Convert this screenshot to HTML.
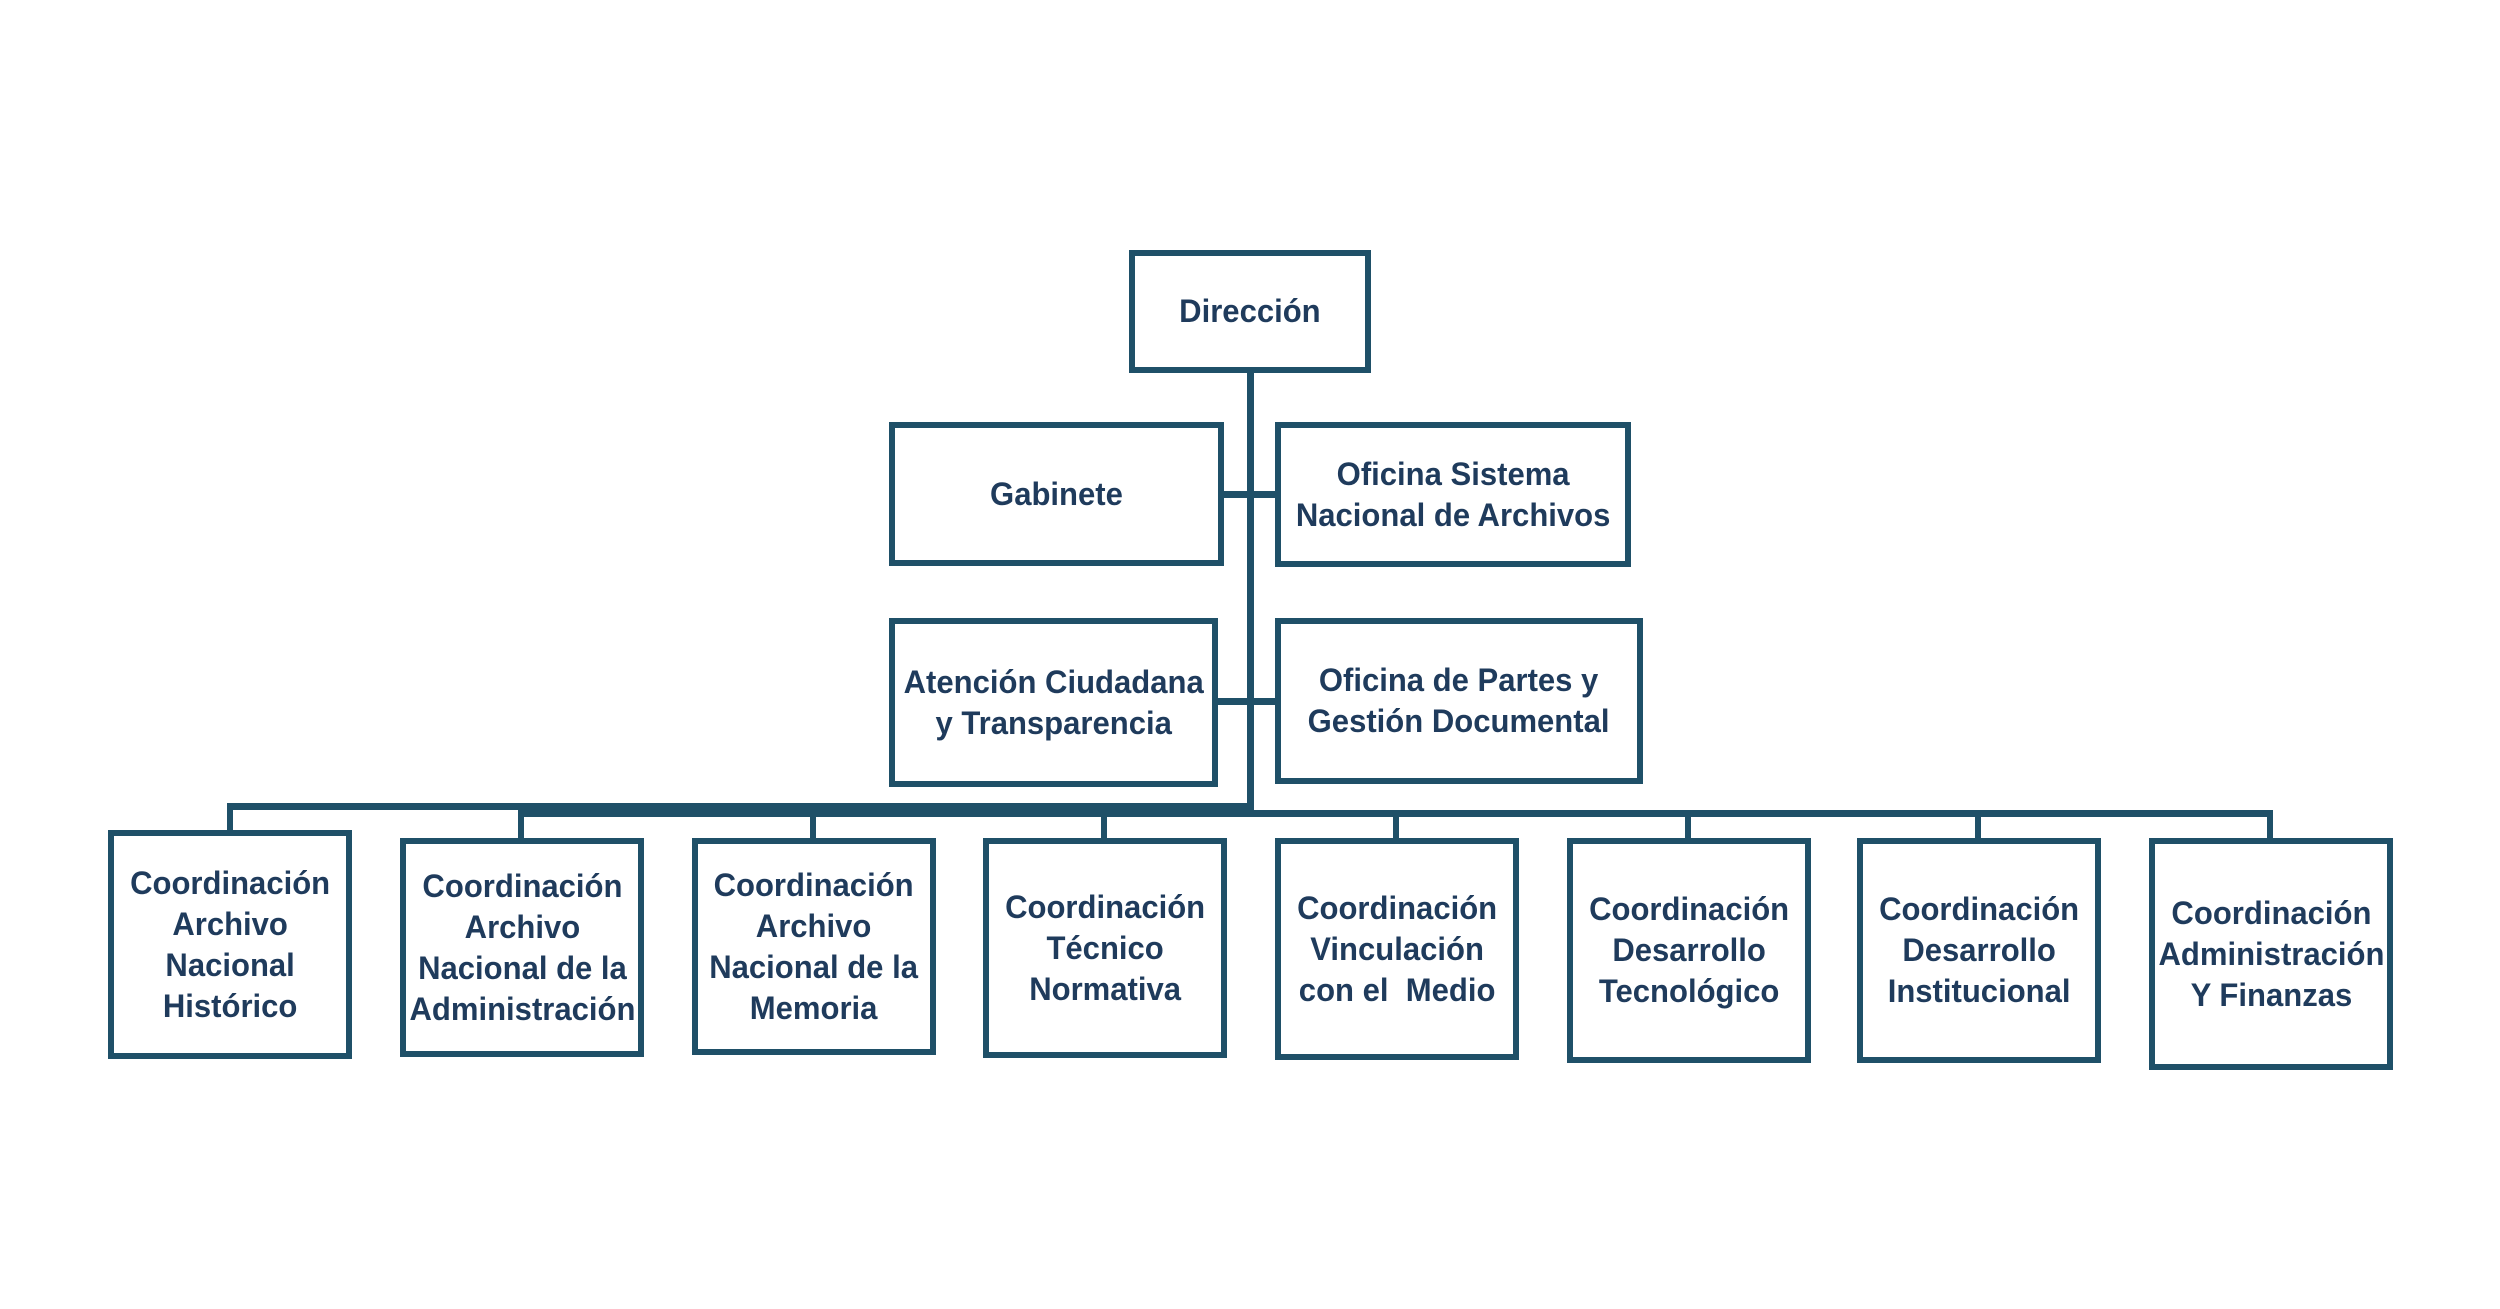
<!DOCTYPE html>
<html><head><meta charset="utf-8"><style>
html,body{margin:0;padding:0;background:#fff;}
body{width:2500px;height:1309px;position:relative;overflow:hidden;font-family:"Liberation Sans",sans-serif;}
.b{position:absolute;box-sizing:border-box;border:6px solid #1f5068;display:flex;align-items:center;justify-content:center;text-align:center;color:#1f3b5c;font-weight:bold;font-size:32px;line-height:41px;background:#fff;}
.b span{display:inline-block;transform:scaleX(0.97);white-space:nowrap;}
.l{position:absolute;background:#1f5068;}
</style></head><body>
<div class="l" style="left:1247px;top:373px;width:7px;height:442px"></div>
<div class="l" style="left:1222px;top:491px;width:55px;height:7px"></div>
<div class="l" style="left:1216px;top:698px;width:61px;height:7px"></div>
<div class="l" style="left:228px;top:803px;width:1026px;height:7px"></div>
<div class="l" style="left:518px;top:810px;width:1755px;height:7px"></div>
<div class="l" style="left:227px;top:803px;width:6px;height:30px"></div>
<div class="l" style="left:518px;top:810px;width:6px;height:30px"></div>
<div class="l" style="left:810px;top:810px;width:6px;height:30px"></div>
<div class="l" style="left:1101px;top:810px;width:6px;height:30px"></div>
<div class="l" style="left:1393px;top:810px;width:6px;height:30px"></div>
<div class="l" style="left:1685px;top:810px;width:6px;height:30px"></div>
<div class="l" style="left:1975px;top:810px;width:6px;height:30px"></div>
<div class="l" style="left:2267px;top:810px;width:6px;height:30px"></div>

<div class="b" style="left:1129px;top:250px;width:242px;height:123px"><span>Dirección</span></div>
<div class="b" style="left:889px;top:422px;width:335px;height:144px"><span>Gabinete</span></div>
<div class="b" style="left:1275px;top:422px;width:356px;height:145px"><span>Oficina Sistema<br>Nacional de Archivos</span></div>
<div class="b" style="left:889px;top:618px;width:329px;height:169px"><span>Atención Ciudadana<br>y Transparencia</span></div>
<div class="b" style="left:1275px;top:618px;width:368px;height:166px"><span>Oficina de Partes y<br>Gestión Documental</span></div>

<div class="b" style="left:108px;top:830px;width:244px;height:229px"><span>Coordinación<br>Archivo<br>Nacional<br>Histórico</span></div>
<div class="b" style="left:400px;top:838px;width:244px;height:219px"><span>Coordinación<br>Archivo<br>Nacional de la<br>Administración</span></div>
<div class="b" style="left:692px;top:838px;width:244px;height:217px"><span>Coordinación<br>Archivo<br>Nacional de la<br>Memoria</span></div>
<div class="b" style="left:983px;top:838px;width:244px;height:220px"><span>Coordinación<br>Técnico<br>Normativa</span></div>
<div class="b" style="left:1275px;top:838px;width:244px;height:222px"><span>Coordinación<br>Vinculación<br>con el&nbsp; Medio</span></div>
<div class="b" style="left:1567px;top:838px;width:244px;height:225px"><span>Coordinación<br>Desarrollo<br>Tecnológico</span></div>
<div class="b" style="left:1857px;top:838px;width:244px;height:225px"><span>Coordinación<br>Desarrollo<br>Institucional</span></div>
<div class="b" style="left:2149px;top:838px;width:244px;height:232px"><span>Coordinación<br>Administración<br>Y Finanzas</span></div>
</body></html>
